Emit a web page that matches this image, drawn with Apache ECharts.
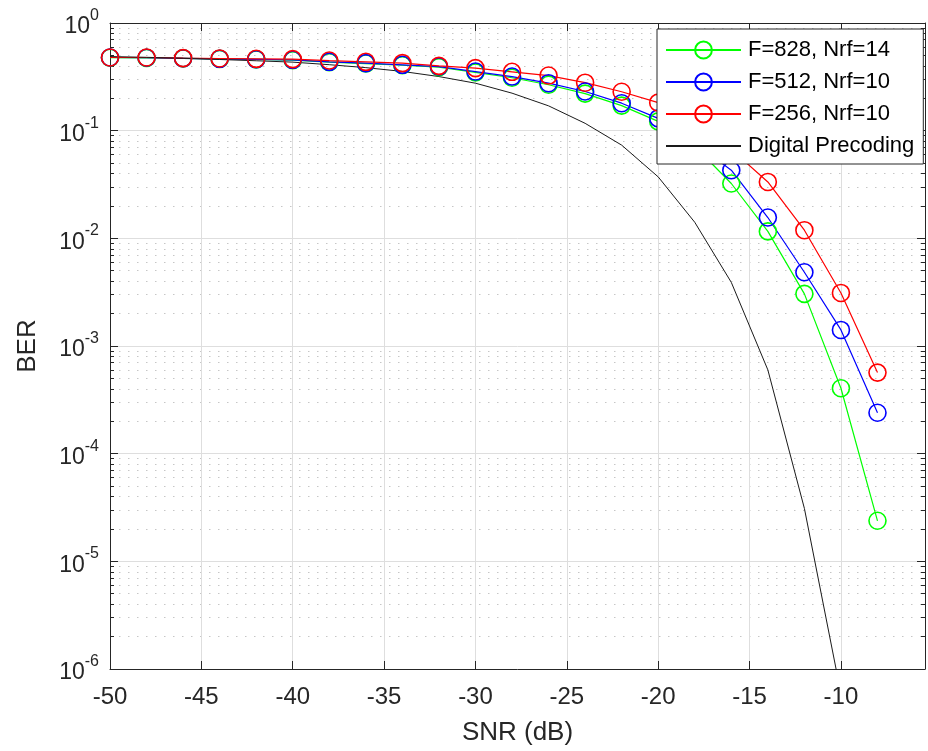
<!DOCTYPE html>
<html>
<head>
<meta charset="utf-8">
<title>BER vs SNR</title>
<script src="https://cdn.jsdelivr.net/npm/echarts@6/dist/echarts.min.js"></script>
<style>
  html, body { margin: 0; padding: 0; background: #fff; }
  #chart { width: 928px; height: 751px; }
</style>
</head>
<body>
<div id="chart"></div>
<script>
// SNR points (dB) of the three hybrid curves
const snr = [-50, -48, -46, -44, -42, -40, -38, -36, -34, -32, -30, -28, -26, -24, -22, -20, -18, -16, -14, -12, -10, -8];
// F=828, Nrf=14
const berF828 = [0.476, 0.474, 0.469, 0.464, 0.459, 0.452, 0.433, 0.420, 0.405, 0.388, 0.348, 0.310, 0.267, 0.221, 0.171, 0.122, 0.0717, 0.0323, 0.0116, 0.00305, 0.000405, 0.0000238];
// F=512, Nrf=10
const berF512 = [0.478, 0.476, 0.470, 0.465, 0.460, 0.455, 0.436, 0.424, 0.409, 0.394, 0.354, 0.318, 0.276, 0.231, 0.180, 0.130, 0.077, 0.0429, 0.0156, 0.00484, 0.00141, 0.00024];
// F=256, Nrf=10
const berF256 = [0.478, 0.478, 0.472, 0.468, 0.465, 0.462, 0.448, 0.436, 0.424, 0.400, 0.381, 0.352, 0.325, 0.279, 0.230, 0.182, 0.123, 0.067, 0.0334, 0.0119, 0.00311, 0.000566];
// digital precoding reference curve
const snrDigital = [-50, -48, -46, -44, -42, -40, -38, -36, -34, -32, -30, -28, -26, -24, -22, -20, -18, -16, -14, -12, -10];
const berDigital = [0.488, 0.480, 0.470, 0.458, 0.446, 0.433, 0.410, 0.385, 0.355, 0.318, 0.276, 0.223, 0.170, 0.117, 0.0734, 0.0372, 0.0141, 0.0039, 0.0006, 0.000031, 0.00000059];

const xTicks = [-50, -45, -40, -35, -30, -25, -20, -15, -10];

const font = "'Liberation Sans', Arial, Helvetica, sans-serif";
const axisColor = '#262626';

const chart = echarts.init(document.getElementById('chart'));

function pairs(xs, ys) {
  return xs.map((x, i) => [x, ys[i]]);
}

function markerSeries(name, color, ys) {
  return {
    name: name,
    type: 'line',
    data: pairs(snr, ys),
    symbol: 'circle',
    symbolSize: 17,
    lineStyle: { color: color, width: 1.2 },
    itemStyle: { color: 'rgba(0,0,0,0)', borderColor: color, borderWidth: 1.6 },
    emphasis: { disabled: true },
    animation: false
  };
}

const option = {
  backgroundColor: '#fff',
  animation: false,
  grid: { left: 110, right: 3, top: 23, bottom: 81 },
  legend: {
    orient: 'vertical',
    left: 657,
    top: 29,
    padding: [10, 9, 7, 8],
    itemWidth: 75,
    itemHeight: 21,
    itemGap: 10,
    backgroundColor: '#fff',
    borderColor: axisColor,
    borderWidth: 1,
    borderRadius: 0,
    textStyle: { fontSize: 22, fontFamily: font, color: '#000', lineHeight: 21, padding: [0, 0, 0, 2] },
    data: ['F=828, Nrf=14', 'F=512, Nrf=10', 'F=256, Nrf=10', 'Digital Precoding']
  },
  xAxis: [
    {
      type: 'value',
      min: -50,
      max: -5.4,
      interval: 5,
      position: 'bottom',
      name: 'SNR (dB)',
      nameLocation: 'middle',
      nameGap: 51,
      nameTextStyle: { fontSize: 26, fontFamily: font, color: axisColor },
      axisLine: { onZero: false, lineStyle: { color: axisColor, width: 1 } },
      axisTick: { inside: true, length: 8, lineStyle: { color: axisColor } },
      axisLabel: {
        fontSize: 24,
        fontFamily: font,
        color: axisColor,
        margin: 16,
        showMaxLabel: false,
        formatter: v => (xTicks.indexOf(v) >= 0 ? String(v) : '')
      },
      splitLine: { show: true, lineStyle: { color: '#dedede', width: 1 } }
    },
    {
      // top edge of the box
      type: 'value',
      min: -50,
      max: -5.4,
      interval: 5,
      position: 'top',
      axisLine: { show: true, onZero: false, lineStyle: { color: axisColor, width: 1 } },
      axisTick: { show: true, inside: true, length: 8, lineStyle: { color: axisColor } },
      axisLabel: { show: false },
      splitLine: { show: false }
    }
  ],
  yAxis: [
    {
      type: 'log',
      logBase: 10,
      min: 1e-6,
      max: 1,
      splitNumber: 6,
      position: 'left',
      name: 'BER',
      nameLocation: 'middle',
      nameGap: 69,
      nameTextStyle: { fontSize: 26, fontFamily: font, color: axisColor },
      axisLine: { show: true, onZero: false, lineStyle: { color: axisColor, width: 1 } },
      axisTick: { show: true, inside: true, length: 8, lineStyle: { color: axisColor } },
      minorTick: { show: true, splitNumber: 9, length: 4, lineStyle: { color: axisColor } },
      minorSplitLine: { show: true, lineStyle: { color: '#c6c6c6', type: [1.5, 7.5], width: 1 } },
      splitLine: { show: true, lineStyle: { color: '#dedede', width: 1 } },
      axisLabel: {
        margin: 11,
        color: axisColor,
        formatter: v => {
          const e = Math.round(Math.log10(v));
          return '{p| }{b|10}{s|' + e + '}';
        },
        rich: {
          p: { fontSize: 1, lineHeight: 31 },
          b: { fontSize: 23, fontFamily: font, color: axisColor, lineHeight: 23, verticalAlign: 'bottom' },
          s: { fontSize: 16, fontFamily: font, color: axisColor, lineHeight: 22, verticalAlign: 'top' }
        }
      }
    },
    {
      // right edge of the box
      type: 'log',
      logBase: 10,
      min: 1e-6,
      max: 1,
      splitNumber: 6,
      position: 'right',
      axisLine: { show: true, onZero: false, lineStyle: { color: axisColor, width: 1 } },
      axisTick: { show: true, inside: true, length: 8, lineStyle: { color: axisColor } },
      minorTick: { show: true, splitNumber: 9, length: 4, lineStyle: { color: axisColor } },
      axisLabel: { show: false },
      splitLine: { show: false }
    }
  ],
  series: [
    markerSeries('F=828, Nrf=14', '#00ff00', berF828),
    markerSeries('F=512, Nrf=10', '#0000ff', berF512),
    markerSeries('F=256, Nrf=10', '#ff0000', berF256),
    {
      name: 'Digital Precoding',
      type: 'line',
      data: pairs(snrDigital, berDigital),
      symbol: 'none',
      lineStyle: { color: '#1a1a1a', width: 1 },
      // no marker, so the legend shows only the line
      itemStyle: { color: 'rgba(0,0,0,0)', borderWidth: 0 },
      emphasis: { disabled: true },
      animation: false
    }
  ]
};

chart.setOption(option);
</script>
</body>
</html>
